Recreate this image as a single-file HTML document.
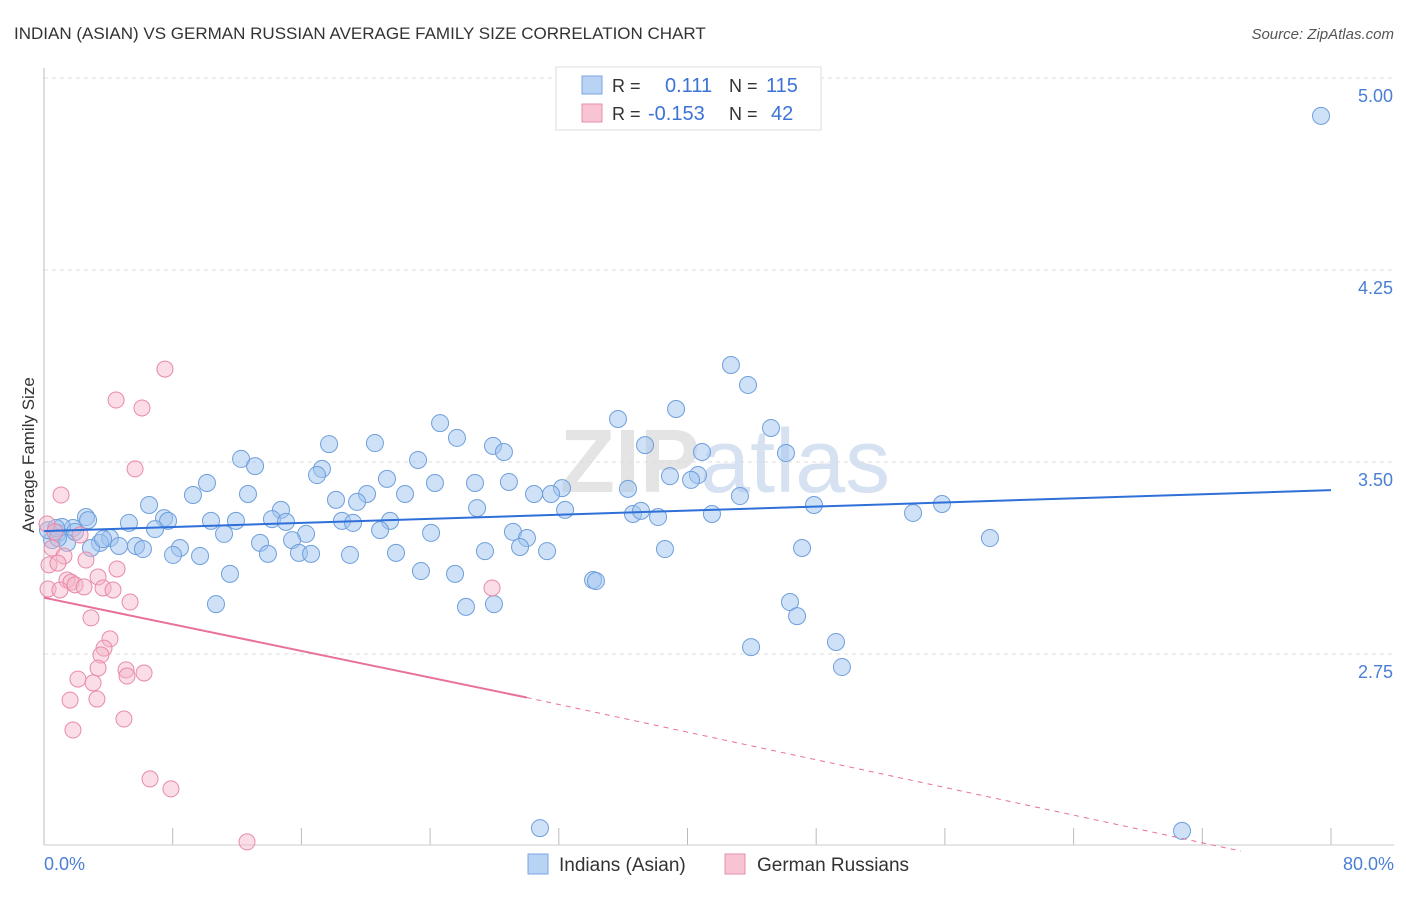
<!DOCTYPE html>
<html><head><meta charset="utf-8"><style>
body{margin:0;background:#fff;font-family:"Liberation Sans",sans-serif;}
svg text{font-family:"Liberation Sans",sans-serif;}
</style></head><body>
<svg width="1406" height="892" id="chart">
<text x="14" y="39" font-size="17" fill="#333">INDIAN (ASIAN) VS GERMAN RUSSIAN AVERAGE FAMILY SIZE CORRELATION CHART</text>
<text x="1394" y="39" font-size="15" fill="#555" text-anchor="end" font-style="italic">Source: ZipAtlas.com</text>
<text x="560" y="492" font-size="90" fill="#e4e4e4" font-family="Liberation Serif" font-weight="bold">ZIP<tspan fill="#d6e2f2" font-family="Liberation Sans" font-weight="normal">atlas</tspan></text>
<g id="grid"></g>
<line x1="44" y1="68" x2="44" y2="845" stroke="#bbb"/>
<line x1="44" y1="845" x2="1394" y2="845" stroke="#ccc"/>
<text x="34" y="455" font-size="17" fill="#333" text-anchor="middle" transform="rotate(-90 34 455)">Average Family Size</text>
<text x="44" y="870" font-size="18" fill="#4a7fd4">0.0%</text>
<text x="1394" y="870" font-size="18" fill="#4a7fd4" text-anchor="end">80.0%</text>
<g id="marks"></g>
<g>
<rect x="556" y="67" width="265" height="63" fill="#fff" stroke="#ddd"/>
<rect x="582" y="76" width="20" height="18" fill="#b9d3f5" stroke="#7aa6e0"/>
<text x="612" y="92" font-size="18" fill="#333">R = </text><text x="665" y="92" font-size="20" fill="#3b73d6">0.111</text>
<text x="729" y="92" font-size="18" fill="#333">N = </text><text x="766" y="92" font-size="20" fill="#3b73d6">115</text>
<rect x="582" y="104" width="20" height="18" fill="#f8c3d3" stroke="#e792ae"/>
<text x="612" y="120" font-size="18" fill="#333">R = </text><text x="648" y="120" font-size="20" fill="#3b73d6">-0.153</text>
<text x="729" y="120" font-size="18" fill="#333">N = </text><text x="771" y="120" font-size="20" fill="#3b73d6">42</text>
</g>
<rect x="528" y="854" width="20" height="20" fill="#b9d3f5" stroke="#7aa6e0"/>
<text x="559" y="871" font-size="19" fill="#333">Indians (Asian)</text>
<rect x="725" y="854" width="20" height="20" fill="#f8c3d3" stroke="#e792ae"/>
<text x="757" y="871" font-size="19" fill="#333">German Russians</text>
</svg>
<script>
const yTicks=[2.75,3.5,4.25,5.0];
const yTickLabels=["2.75","3.50","4.25","5.00"];
const xTicks=[0,8,16,24,32,40,48,56,64,72,80];
const bluePx=[[1321,116],[731,365],[748,385],[676,409],[618,419],[440,423],[771,428],[329,444],[375,443],[457,438],[645,445],[493,446],[504,452],[786,453],[241,459],[255,466],[418,460],[322,469],[702,452],[207,483],[317,475],[387,479],[435,483],[475,483],[509,482],[670,476],[698,475],[691,480],[562,488],[551,494],[534,494],[628,489],[405,494],[367,494],[357,502],[193,495],[248,494],[149,505],[336,500],[477,508],[565,510],[740,496],[814,505],[942,504],[913,513],[633,514],[641,511],[658,517],[712,514],[281,510],[272,519],[286,522],[342,521],[353,523],[390,521],[211,521],[236,521],[164,518],[168,521],[129,523],[86,517],[73,528],[155,529],[380,530],[431,533],[513,532],[527,538],[306,534],[224,534],[260,543],[292,540],[110,538],[100,543],[91,548],[119,546],[136,546],[143,549],[180,548],[173,555],[200,556],[268,554],[299,553],[311,554],[350,555],[396,553],[485,551],[520,547],[547,551],[665,549],[802,548],[990,538],[421,571],[455,574],[230,574],[593,580],[596,581],[216,604],[466,607],[494,604],[790,602],[797,616],[836,642],[751,647],[842,667],[540,828],[1182,831],[58,533],[52,540],[48,530],[62,527],[67,543],[56,528],[75,532],[58,538],[88,520],[103,539]];
const pinkPx=[[165,369],[116,400],[142,408],[135,469],[61,495],[47,524],[52,548],[64,556],[49,565],[58,563],[67,580],[71,582],[86,560],[117,569],[48,589],[60,590],[75,585],[98,577],[84,587],[103,588],[113,590],[130,602],[91,618],[110,639],[104,648],[101,655],[98,668],[126,670],[144,673],[127,676],[78,679],[93,683],[70,700],[97,699],[124,719],[73,730],[150,779],[171,789],[247,842],[492,588],[55,532],[80,535]];
// converted to data values (x %, y family size)
const blueX=bluePx.map(p=>+((p[0]-44)/1287*80).toFixed(2));
const blueY=bluePx.map(p=>+(3.5-(p[1]-462)/256).toFixed(3));
const pinkX=pinkPx.map(p=>+((p[0]-44)/1287*80).toFixed(2));
const pinkY=pinkPx.map(p=>+(3.5-(p[1]-462)/256).toFixed(3));
const blueTrend=[3.23,3.39];
const pinkTrend=[2.97,2.58,1.98];
const sx=v=>44+v/80*1287, sy=v=>462-(v-3.5)*256;
const NS="http://www.w3.org/2000/svg";
function mk(t,a,parent){const e=document.createElementNS(NS,t);for(const k in a)e.setAttribute(k,a[k]);parent.appendChild(e);return e;}
const grid=document.getElementById('grid'),marks=document.getElementById('marks');
yTicks.forEach((v,i)=>{
 const l=mk('line',{x1:44,x2:1394,y1:sy(v),y2:sy(v),stroke:'#ddd','stroke-dasharray':'4,4'},grid);
 
 
 const t=mk('text',{x:1393,y:sy(v)+24,'font-size':18,fill:'#4a7fd4','text-anchor':'end'},grid);
 t.textContent=yTickLabels[i];
 
 
});
xTicks.forEach(v=>{
 const l=mk('line',{x1:sx(v),x2:sx(v),y1:828,y2:845,stroke:'#bbb'},grid);
 
 
});
blueX.forEach((x,i)=>{
 const c=mk('circle',{cx:sx(x),cy:sy(blueY[i]),r:8.5,fill:'rgba(160,195,240,0.5)',stroke:'#6e9fdc','stroke-width':1},marks);
 
 
});
pinkX.forEach((x,i)=>{
 const c=mk('circle',{cx:sx(x),cy:sy(pinkY[i]),r:8,fill:'rgba(245,180,200,0.45)',stroke:'#e88aa8','stroke-width':1},marks);
 
 
});
const bl=mk('line',{x1:sx(0),y1:sy(blueTrend[0]),x2:sx(80),y2:sy(blueTrend[1]),stroke:'#2f6fd8','stroke-width':2},marks);


const pl=mk('line',{x1:sx(0),y1:sy(pinkTrend[0]),x2:sx(30),y2:sy(pinkTrend[1]),stroke:'#e8719a','stroke-width':2},marks);


const pd=mk('line',{x1:sx(30),y1:sy(pinkTrend[1]),x2:sx(74.4),y2:sy(pinkTrend[2]),stroke:'#e8719a','stroke-width':1,'stroke-dasharray':'5,5'},marks);


</script>
</body></html>
